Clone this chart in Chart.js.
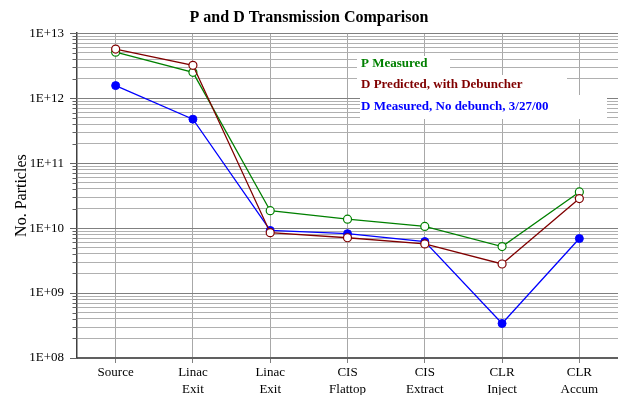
<!DOCTYPE html>
<html>
<head>
<meta charset="utf-8">
<script src="https://cdn.jsdelivr.net/npm/chart.js@4.4.6/dist/chart.umd.min.js"></script>
<style>
  html, body { margin: 0; padding: 0; background: #fff; overflow: hidden; }
  canvas { display: block; }
</style>
</head>
<body>
<canvas id="grafica" width="618" height="395"></canvas>
<script>
const etapas = [
    ["Source"],
    ["Linac", "Exit"],
    ["Linac", "Exit"],
    ["CIS", "Flattop"],
    ["CIS", "Extract"],
    ["CLR", "Inject"],
    ["CLR", "Accum"]
];

const pMedido = [5.1e12, 2.5e12, 1.85e10, 1.37e10, 1.06e10, 5.2e9, 3.6e10];
const dPredicho = [5.7e12, 3.2e12, 8.5e9, 7.1e9, 5.7e9, 2.8e9, 2.85e10];
const dMedido = [1.56e12, 4.75e11, 9.2e9, 8.2e9, 6.2e9, 3.4e8, 6.9e9];

const nombres = ["P Measured", "D Predicted, with Debuncher", "D Measured, No debunch, 3/27/00"];

// marcas del eje y: decadas y pasos intermedios
const decadas = [1e8, 1e9, 1e10, 1e11, 1e12, 1e13];
const pasosMenores = [2, 3, 4, 5, 6, 7, 8, 9];

const fuente = "'Liberation Serif', 'Times New Roman', serif";

function esDecada(v) {
    const e = Math.log10(v);
    return Math.abs(e - Math.round(e)) < 1e-9;
}

function etiquetaY(v) {
    const e = Math.round(Math.log10(v));
    return "1E+" + (e < 10 ? "0" + e : e);
}

// marcas cortas y largas a la izquierda del eje y
const marcasY = {
    id: 'marcasY',
    afterDraw(chart) {
        const y = chart.scales.y;
        const ctx = chart.ctx;
        ctx.save();
        ctx.strokeStyle = '#606060';
        ctx.lineWidth = 1;
        y.ticks.forEach(t => {
            const py = Math.round(y.getPixelForValue(t.value)) + 0.5;
            const largo = t.major ? 7 : 4.5;
            ctx.beginPath();
            ctx.moveTo(y.right - largo, py);
            ctx.lineTo(y.right, py);
            ctx.stroke();
        });
        ctx.restore();
    }
};

// leyenda dentro del area, con fondo blanco por renglon
const leyenda = {
    id: 'leyenda',
    afterDraw(chart) {
        const ctx = chart.ctx;
        const x = 361;
        const filas = [64, 85, 107];
        const cajas = [[357, 56, 93, 19], [357, 75, 210, 20], [360, 95, 247, 24]];
        ctx.save();
        ctx.font = "bold 13px " + fuente;
        ctx.textBaseline = 'middle';
        chart.data.datasets.forEach((ds, i) => {
            const c = cajas[i];
            ctx.fillStyle = '#ffffff';
            ctx.fillRect(c[0], c[1], c[2], c[3]);
        });
        chart.data.datasets.forEach((ds, i) => {
            ctx.fillStyle = ds.borderColor;
            ctx.fillText(ds.label, x, filas[i]);
        });
        ctx.restore();
    }
};

document.addEventListener('DOMContentLoaded', function () {
    const ctx = document.getElementById('grafica').getContext('2d');
    new Chart(ctx, {
        type: 'line',
        data: {
            labels: etapas,
            datasets: [
                {
                    label: nombres[0],
                    data: pMedido,
                    borderColor: '#008000',
                    backgroundColor: '#ffffff',
                    pointBackgroundColor: '#ffffff',
                    pointBorderColor: '#008000',
                    pointRadius: 4,
                    pointBorderWidth: 1.2,
                    borderWidth: 1.3,
                    fill: false,
                    order: 1
                },
                {
                    label: nombres[1],
                    data: dPredicho,
                    borderColor: '#800000',
                    backgroundColor: '#ffffff',
                    pointBackgroundColor: '#ffffff',
                    pointBorderColor: '#800000',
                    pointRadius: 4,
                    pointBorderWidth: 1.2,
                    borderWidth: 1.3,
                    fill: false,
                    order: 0
                },
                {
                    label: nombres[2],
                    data: dMedido,
                    borderColor: '#0000ff',
                    backgroundColor: '#0000ff',
                    pointBackgroundColor: '#0000ff',
                    pointBorderColor: '#0000ff',
                    pointRadius: 4,
                    pointBorderWidth: 1,
                    borderWidth: 1.3,
                    fill: false,
                    order: 2
                }
            ]
        },
        options: {
            responsive: false,
            animation: false,
            devicePixelRatio: 1,
            layout: { padding: 0, autoPadding: false },
            plugins: {
                legend: { display: false },
                tooltip: { enabled: false },
                title: {
                    display: true,
                    text: 'P and D Transmission Comparison',
                    color: '#000',
                    font: { family: fuente, size: 16, weight: 'bold', lineHeight: 1.2 },
                    padding: { top: 8, bottom: 6 }
                }
            },
            scales: {
                x: {
                    offset: true,
                    grid: {
                        offset: false,
                        color: '#a8a8a8',
                        tickColor: '#808080',
                        tickLength: 5,
                        lineWidth: 1
                    },
                    border: { color: '#606060', width: 2 },
                    ticks: {
                        color: '#000',
                        font: { family: fuente, size: 13, lineHeight: 1.3 },
                        padding: 1,
                        maxRotation: 0,
                        autoSkip: false
                    },
                    afterFit(axis) {
                        axis.height = 37;
                        axis.paddingLeft = 0;
                        axis.paddingRight = 0;
                    }
                },
                y: {
                    type: 'logarithmic',
                    min: decadas[0],
                    max: decadas[decadas.length - 1],
                    afterBuildTicks(axis) {
                        const marcas = [];
                        decadas.forEach((d, i) => {
                            marcas.push({ value: d, major: true });
                            if (i < decadas.length - 1) {
                                pasosMenores.forEach(p => marcas.push({ value: d * p, major: false }));
                            }
                        });
                        axis.ticks = marcas;
                    },
                    grid: {
                        drawTicks: false,
                        color: c => (c.tick && c.tick.major) ? '#808080' : '#b0b0b0',
                        lineWidth: 1
                    },
                    border: { color: '#404040', width: 1.5 },
                    ticks: {
                        autoSkip: false,
                        color: '#000',
                        font: { family: fuente, size: 13 },
                        padding: 13,
                        callback: function (v) { return esDecada(v) ? etiquetaY(v) : ''; }
                    },
                    title: {
                        display: true,
                        text: 'No. Particles',
                        color: '#000',
                        font: { family: fuente, size: 16 },
                        padding: { top: 12, bottom: 0 }
                    },
                    afterFit(axis) { axis.width = 77; }
                }
            }
        },
        plugins: [marcasY, leyenda]
    });
});
</script>
</body>
</html>
